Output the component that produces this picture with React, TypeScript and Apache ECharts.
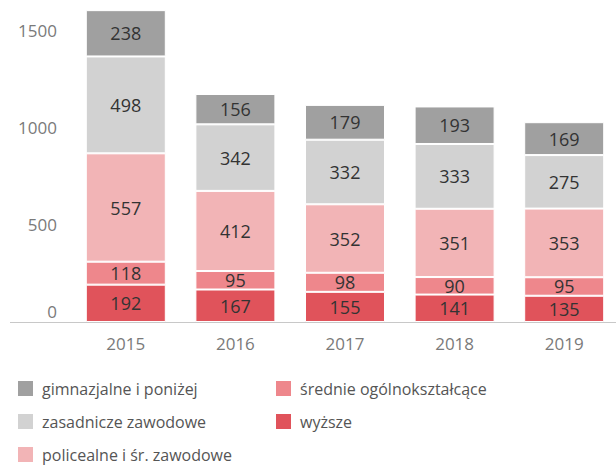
import React, { useEffect, useRef } from "react";
import * as echarts from "echarts";

const years = ["2015", "2016", "2017", "2018", "2019"];
const wyzsze = [192, 167, 155, 141, 135];
const srednieOgolne = [118, 95, 98, 90, 95];
const policealne = [557, 412, 352, 351, 353];
const zasadnicze = [498, 342, 332, 333, 275];
const gimnazjalne = [238, 156, 179, 193, 169];

const names = {
  gim: "gimnazjalne i poniżej",
  zas: "zasadnicze zawodowe",
  pol: "policealne i śr. zawodowe",
  sre: "średnie ogólnokształcące",
  wyz: "wyższe",
};

const FONT = "'Open Sans', 'Noto Sans', sans-serif";

export default function App() {
  const ref = useRef<HTMLDivElement>(null);
  useEffect(() => {
    if (!ref.current) return;
    document.body.style.margin = "0";
    const chart = echarts.init(ref.current, null, { renderer: "svg" });
    const mk = (name: string, data: number[], color: string) => ({
      name,
      type: "bar",
      stack: "total",
      data,
      barWidth: 80,
      itemStyle: { color, borderColor: "#ffffff", borderWidth: 1 },
      label: {
        show: true,
        position: "inside",
        color: "#333333",
        fontSize: 18,
        fontFamily: FONT,
      },
    });
    const legendText = {
      color: "#555555",
      fontSize: 16,
      lineHeight: 17,
      padding: [0, 0, 0, 3],
      fontFamily: FONT,
    };
    chart.setOption({
      animation: false,
      backgroundColor: "#ffffff",
      textStyle: { fontFamily: FONT },
      grid: { left: 71, width: 548, top: 1, bottom: 146, outerBoundsMode: "none" },
      xAxis: {
        type: "category",
        data: years,
        axisLine: { show: false },
        axisTick: { show: false },
        axisLabel: { color: "#7a7a7a", fontSize: 17, margin: 13, fontFamily: FONT },
      },
      yAxis: {
        type: "value",
        min: 0,
        max: 1650,
        interval: 500,
        splitLine: { show: false },
        axisLine: { show: false },
        axisTick: { show: false },
        axisLabel: {
          color: "#7a7a7a",
          fontSize: 17,
          margin: 14,
          fontFamily: FONT,
          formatter: (v: number) =>
            v === 0 ? "{z|0}" : v % 500 === 0 ? String(v) : "",
          rich: {
            z: { padding: [0, 0, 22, 0], color: "#7a7a7a", fontSize: 17, fontFamily: FONT },
          },
        },
      },
      legend: [
        {
          orient: "vertical",
          left: 16,
          top: 379,
          padding: 0,
          height: 120,
          itemWidth: 17,
          itemHeight: 17,
          itemGap: 14,
          icon: "rect",
          data: [names.gim, names.zas, names.pol],
          textStyle: legendText,
        },
        {
          orient: "vertical",
          left: 274,
          top: 379,
          padding: 0,
          height: 120,
          itemWidth: 17,
          itemHeight: 17,
          itemGap: 14,
          icon: "rect",
          data: [names.sre, names.wyz],
          textStyle: legendText,
        },
      ],
      series: [
        mk(names.wyz, wyzsze, "#e0535b"),
        mk(names.sre, srednieOgolne, "#ee878c"),
        mk(names.pol, policealne, "#f2b4b6"),
        mk(names.zas, zasadnicze, "#d2d2d2"),
        mk(names.gim, gimnazjalne, "#a0a0a0"),
      ],
    });
    const y0 = chart.convertToPixel({ yAxisIndex: 0 }, 0) as number;
    chart.setOption({
      graphic: [
        {
          type: "line",
          z: -1,
          shape: { x1: 10, y1: y0 + 0.5, x2: 616, y2: y0 + 0.5 },
          style: { stroke: "#c8c8c8", lineWidth: 1 },
        },
      ],
    });
    return () => chart.dispose();
  }, []);
  return <div ref={ref} style={{ width: 616, height: 468 }} />;
}
